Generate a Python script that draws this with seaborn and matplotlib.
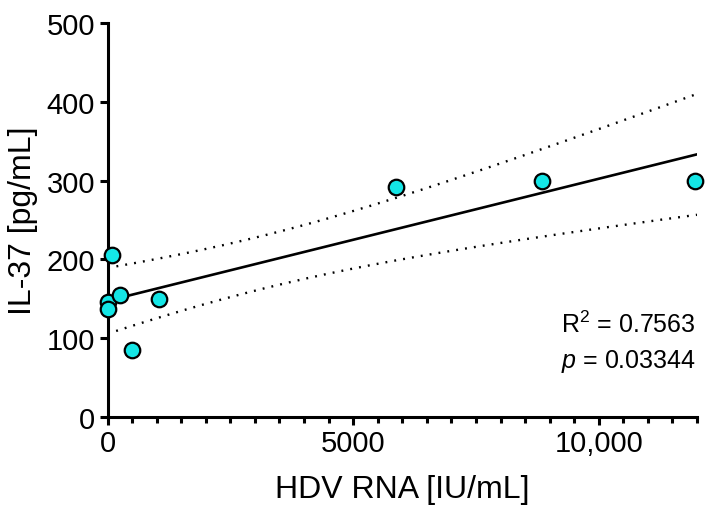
import numpy as np
import pandas as pd
import matplotlib
matplotlib.use("Agg")
import matplotlib.pyplot as plt
from matplotlib.ticker import MultipleLocator
import seaborn as sns

# Data
hdv_rna = [0, 0, 82, 250, 489, 1052, 5870, 8846, 11950]
il37 = [146, 137, 206, 155, 85, 150, 292, 299, 299]

x_ticks = [0, 5000, 10000]
x_tick_labels = ["0", "5000", "10,000"]
y_ticks = [0, 100, 200, 300, 400, 500]
stats_text = ["R$^2$ = 0.7563", "$\\it{p}$ = 0.03344"]

sns.set_theme(style="ticks")
plt.rcParams.update({
    'font.family': ['Liberation Sans', 'DejaVu Sans'],
    'mathtext.fontset': 'custom',
    'mathtext.rm': 'Liberation Sans',
    'mathtext.it': 'Liberation Sans:italic',
    'text.color': 'black',
    'axes.labelcolor': 'black',
})


def main():
    df = pd.DataFrame({'x': hdv_rna, 'y': il37})

    # linear fit with analytic 95% confidence band
    x = np.array(hdv_rna, dtype=float)
    y = np.array(il37, dtype=float)
    n = len(x)
    slope, intercept = np.polyfit(x, y, 1)
    resid = y - (slope * x + intercept)
    s = np.sqrt(np.sum(resid ** 2) / (n - 2))
    sxx = np.sum((x - x.mean()) ** 2)
    t_crit = 2.3646  # t(0.975, df=7)
    xs = np.linspace(0, 12000, 200)
    fit = slope * xs + intercept
    half = t_crit * s * np.sqrt(1 / n + (xs - x.mean()) ** 2 / sxx)
    df_fit = pd.DataFrame({'x': xs, 'fit': fit, 'lo': fit - half, 'hi': fit + half})

    fig = plt.figure(figsize=(7.22, 5.10), dpi=100)
    ax = fig.add_axes([0.149, 0.1804, 0.8164, 0.7726])

    sns.lineplot(data=df_fit, x='x', y='hi', ax=ax, color='black', lw=1.7,
                 linestyle=(0, (0.8, 3.0)))
    sns.lineplot(data=df_fit, x='x', y='lo', ax=ax, color='black', lw=1.7,
                 linestyle=(0, (0.8, 3.0)))
    sns.lineplot(data=df_fit, x='x', y='fit', ax=ax, color='black', lw=1.9)
    sns.scatterplot(data=df, x='x', y='y', ax=ax, s=125, color='#14E6E6',
                    edgecolor='black', linewidth=1.6, zorder=5, clip_on=False)

    ax.set_xlim(0, 12000)
    ax.set_ylim(0, 500)
    ax.set_xticks(x_ticks)
    ax.set_xticklabels(x_tick_labels)
    ax.xaxis.set_minor_locator(MultipleLocator(500))
    ax.set_yticks(y_ticks)

    for side in ['top', 'right']:
        ax.spines[side].set_visible(False)
    for side in ['left', 'bottom']:
        ax.spines[side].set_linewidth(2.2)
        ax.spines[side].set_color('black')

    ax.tick_params(axis='both', which='major', length=6, width=2.2,
                   labelsize=21, pad=3, colors='black')
    ax.tick_params(axis='x', which='minor', length=4, width=2.2, colors='black')

    ax.set_xlabel("HDV RNA [IU/mL]", fontsize=23, labelpad=12)
    ax.set_ylabel("IL-37 [pg/mL]", fontsize=23, labelpad=6)

    ax.text(0.998, 0.237, stats_text[0], transform=ax.transAxes,
            ha='right', va='center', fontsize=18)
    ax.text(0.998, 0.144, stats_text[1], transform=ax.transAxes,
            ha='right', va='center', fontsize=18)

    fig.savefig("out.png", dpi=100)
    plt.close(fig)


if __name__ == '__main__':
    main()
